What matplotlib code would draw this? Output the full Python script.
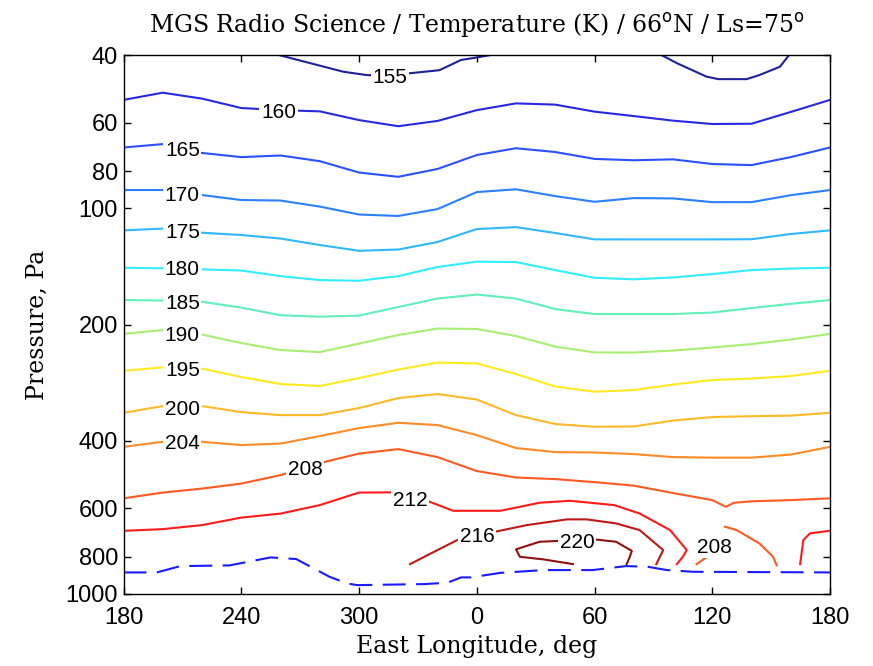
import matplotlib
matplotlib.use("Agg")
import matplotlib.pyplot as plt
import numpy as np

# ---------------- data ----------------
LEVELS = [155, 160, 165, 170, 175, 180, 185, 190, 195, 200, 204, 208, 212, 216, 220]

LON = [180, 200, 220, 240, 260, 280, 300, 320, 340, 360, 380, 400, 420, 440, 460, 480, 500, 520, 540]

# full-width contours: pressure (Pa) of each isotherm at LON
P160 = [52.3, 50.1, 51.9, 54.9, 55.6, 56.0, 59.0, 61.2, 59.3, 55.6, 53.4, 53.8, 56.1, 57.6, 59.2, 60.4, 60.3, 56.2, 52.3]
P165 = [69.5, 68.1, 71.8, 73.6, 72.9, 75.4, 80.7, 82.8, 79.0, 72.7, 69.8, 71.4, 74.4, 75.0, 74.6, 76.7, 77.2, 73.6, 69.5]
P170 = [89.6, 89.6, 92.3, 95.1, 95.4, 98.9, 103.7, 104.6, 100.4, 90.7, 89.2, 92.9, 96.1, 94.0, 94.2, 96.3, 96.3, 92.4, 89.6]
P175 = [114.0, 112.8, 115.6, 117.2, 119.7, 124.4, 128.8, 127.8, 122.2, 113.1, 111.8, 115.8, 120.3, 120.3, 120.3, 120.3, 120.2, 116.5, 114.0]
P180 = [142.5, 143.0, 143.9, 144.9, 149.8, 153.4, 154.0, 149.8, 141.9, 137.4, 137.8, 144.5, 151.3, 152.7, 151.0, 148.0, 144.5, 143.2, 142.5]
P185 = [172.8, 173.3, 174.6, 180.8, 189.2, 190.9, 189.6, 180.2, 171.3, 167.2, 171.3, 182.4, 187.9, 187.9, 187.9, 186.2, 181.3, 176.8, 172.8]
P190 = [211.5, 206.8, 212.4, 223.4, 233.0, 235.8, 224.1, 213.0, 204.9, 205.4, 214.3, 228.2, 236.3, 236.5, 233.7, 229.5, 224.8, 218.8, 211.5]
P195 = [263.7, 258.4, 260.3, 273.7, 285.4, 288.8, 275.4, 261.8, 251.1, 252.3, 268.9, 289.7, 298.8, 295.8, 286.3, 278.6, 276.2, 272.1, 263.7]
P200 = [338.9, 325.6, 325.6, 337.5, 343.6, 343.6, 329.4, 310.4, 303.0, 313.1, 343.6, 362.4, 368.4, 367.7, 355.0, 347.6, 345.8, 344.7, 338.9]
P204 = [415.3, 402.9, 402.9, 410.9, 407.2, 389.4, 371.3, 359.7, 364.7, 387.1, 418.3, 428.5, 429.5, 433.6, 441.5, 442.9, 442.9, 434.9, 415.3]

# partial / irregular contours
LON155A = [255, 272, 292, 304, 316, 326, 341, 352, 360, 373]
P155A = [39.5, 41.6, 44.2, 45.1, 45.3, 44.6, 43.8, 41.2, 40.6, 39.5]
LON155B = [452, 462, 477, 483, 497.5, 504, 514.5, 520]
P155B = [39.5, 42.0, 45.5, 46.2, 46.2, 45.1, 42.9, 39.5]

LON208 = [180, 200, 220, 240, 260, 280, 300, 320, 340, 360, 380, 400, 420, 440, 460, 480, 487, 491, 500, 520, 540]
P208 = [564.8, 545.7, 532.8, 517.2, 491.7, 457.6, 432.4, 420.9, 441.5, 479.9, 498.8, 503.5, 512.7, 523.6, 547.2, 570.8, 594.1, 579.9, 574.9, 570.8, 564.8]
LON208B = [486.5, 492.5, 504, 511, 512.8]
P208B = [669.3, 682.8, 739.2, 800.8, 843.0]
LON208C = [472, 477]
P208C = [836.5, 803.7]

LON212 = [180, 200, 220, 240, 260, 280, 300, 316, 336, 348, 360, 372, 392, 407.5, 430, 443, 458.5, 467, 465, 462]
P212 = [685.6, 678.8, 662.7, 633.6, 618.7, 588.1, 545.7, 545.0, 576.5, 608.4, 608.4, 608.4, 579.9, 573.1, 588.1, 618.3, 682.8, 769.3, 800.8, 836.5]
LON212B = [524.8, 526.4, 529.8, 540]
P212B = [836.5, 724.8, 696.0, 685.6]

LON216 = [326, 338, 350, 369, 385.5, 406, 416, 431, 443, 455, 451.5]
P216 = [836.5, 778.5, 724.8, 690.0, 662.7, 640.4, 640.4, 656.1, 682.8, 769.3, 836.5]

LON220 = [409, 394, 382, 380, 392, 420, 431, 439, 438, 436.4]
P220 = [836.5, 813.3, 800.8, 766.0, 732.0, 721.7, 732.0, 772.7, 800.8, 836.5]

# surface pressure (dashed)
LON_SFC = [180, 197, 209, 234, 255, 268, 285, 294, 299, 333, 345, 352, 357, 372, 394, 419, 436, 447, 457, 470, 540]
P_SFC = [879.1, 879.1, 846.5, 843.0, 803.7, 811.7, 902.4, 938.8, 948.4, 942.6, 935.1, 905.6, 905.6, 881.5, 866.9, 866.9, 846.5, 849.8, 866.9, 875.7, 879.1]

# contour labels: (level text, lon, pressure)
LABELS = [("155", 315.8, 45.1), ("160", 259, 55.6), ("165", 210, 70.1), ("170", 210, 91.6),
          ("175", 210, 114.3), ("180", 210, 142.5), ("185", 210, 174.6), ("190", 210, 210.9),
          ("195", 210, 260.0), ("200", 210, 327.8), ("204", 210, 402.9), ("208", 272.5, 469.0),
          ("212", 326, 564.8), ("216", 360.3, 703.0), ("220", 411.2, 724.8), ("208", 480.9, 746.8)]

XTICKS = [180, 240, 300, 360, 420, 480, 540]
XTICKLABELS = ["180", "240", "300", "0", "60", "120", "180"]
YTICKS = [40, 60, 80, 100, 200, 400, 600, 800, 1000]
YTICKLABELS = ["40", "60", "80", "100", "200", "400", "600", "800", "1000"]

# line colour per level (jet-like)
LEVEL_COLORS = {155: "#20209a", 160: "#2828e0", 165: "#2a50ff", 170: "#2a80ff", 175: "#30b8ff",
                180: "#30eeff", 185: "#60f0b8", 190: "#a8ee70", 195: "#ffea20", 200: "#ffb828",
                204: "#ff8a28", 208: "#ff5a20", 212: "#ff1a1a", 216: "#c01818", 220: "#901010"}

# ---------------- plot ----------------
fig = plt.figure(figsize=(8.73, 6.66), dpi=100)
ax = fig.add_axes([123.5 / 873, 1 - 594 / 666, (830 - 123.5) / 873, (594 - 55) / 666])

lines = [
    (155, LON155A, P155A), (155, LON155B, P155B),
    (160, LON, P160), (165, LON, P165), (170, LON, P170), (175, LON, P175),
    (180, LON, P180), (185, LON, P185), (190, LON, P190), (195, LON, P195),
    (200, LON, P200), (204, LON, P204),
    (208, LON208, P208), (208, LON208B, P208B), (208, LON208C, P208C),
    (212, LON212, P212), (212, LON212B, P212B),
    (216, LON216, P216), (220, LON220, P220),
]
for lev, lon, p in lines:
    ax.plot(lon, p, color=LEVEL_COLORS[lev], lw=1.5, solid_joinstyle="round", zorder=2)

ax.plot(LON_SFC, P_SFC, color="#1a1aff", lw=1.5, linestyle=(0, (11, 5)), zorder=2)

for txt, lon, p in LABELS:
    ax.text(lon, p, txt, ha="center", va="center_baseline", fontsize=15,
            family="Liberation Sans", zorder=3,
            bbox=dict(boxstyle="square,pad=0.08", fc="white", ec="none"))

ax.set_yscale("log")
ax.set_xlim(180, 540)
ax.set_ylim(1000, 40)
ax.set_xticks(XTICKS)
ax.set_xticklabels(XTICKLABELS)
ax.set_yticks(YTICKS)
ax.set_yticklabels(YTICKLABELS)
ax.yaxis.set_minor_locator(matplotlib.ticker.NullLocator())
ax.tick_params(direction="in", length=5, width=1, top=True, right=True, labelsize=17)
for lab in ax.get_xticklabels() + ax.get_yticklabels():
    lab.set_family("Liberation Sans")
ax.tick_params(axis="x", pad=9)
ax.tick_params(axis="y", pad=4)
for s in ax.spines.values():
    s.set_linewidth(1.0)

ax.set_xlabel("East Longitude, deg", family="DejaVu Serif", fontsize=17, labelpad=5)
ax.set_ylabel("Pressure, Pa", family="DejaVu Serif", fontsize=17, labelpad=12)
ax.set_title("MGS Radio Science / Temperature (K) / 66$^{\\rm o}$N / Ls=75$^{\\rm o}$",
             family="DejaVu Serif", fontsize=17, pad=16)

fig.savefig("out.png", dpi=100)
